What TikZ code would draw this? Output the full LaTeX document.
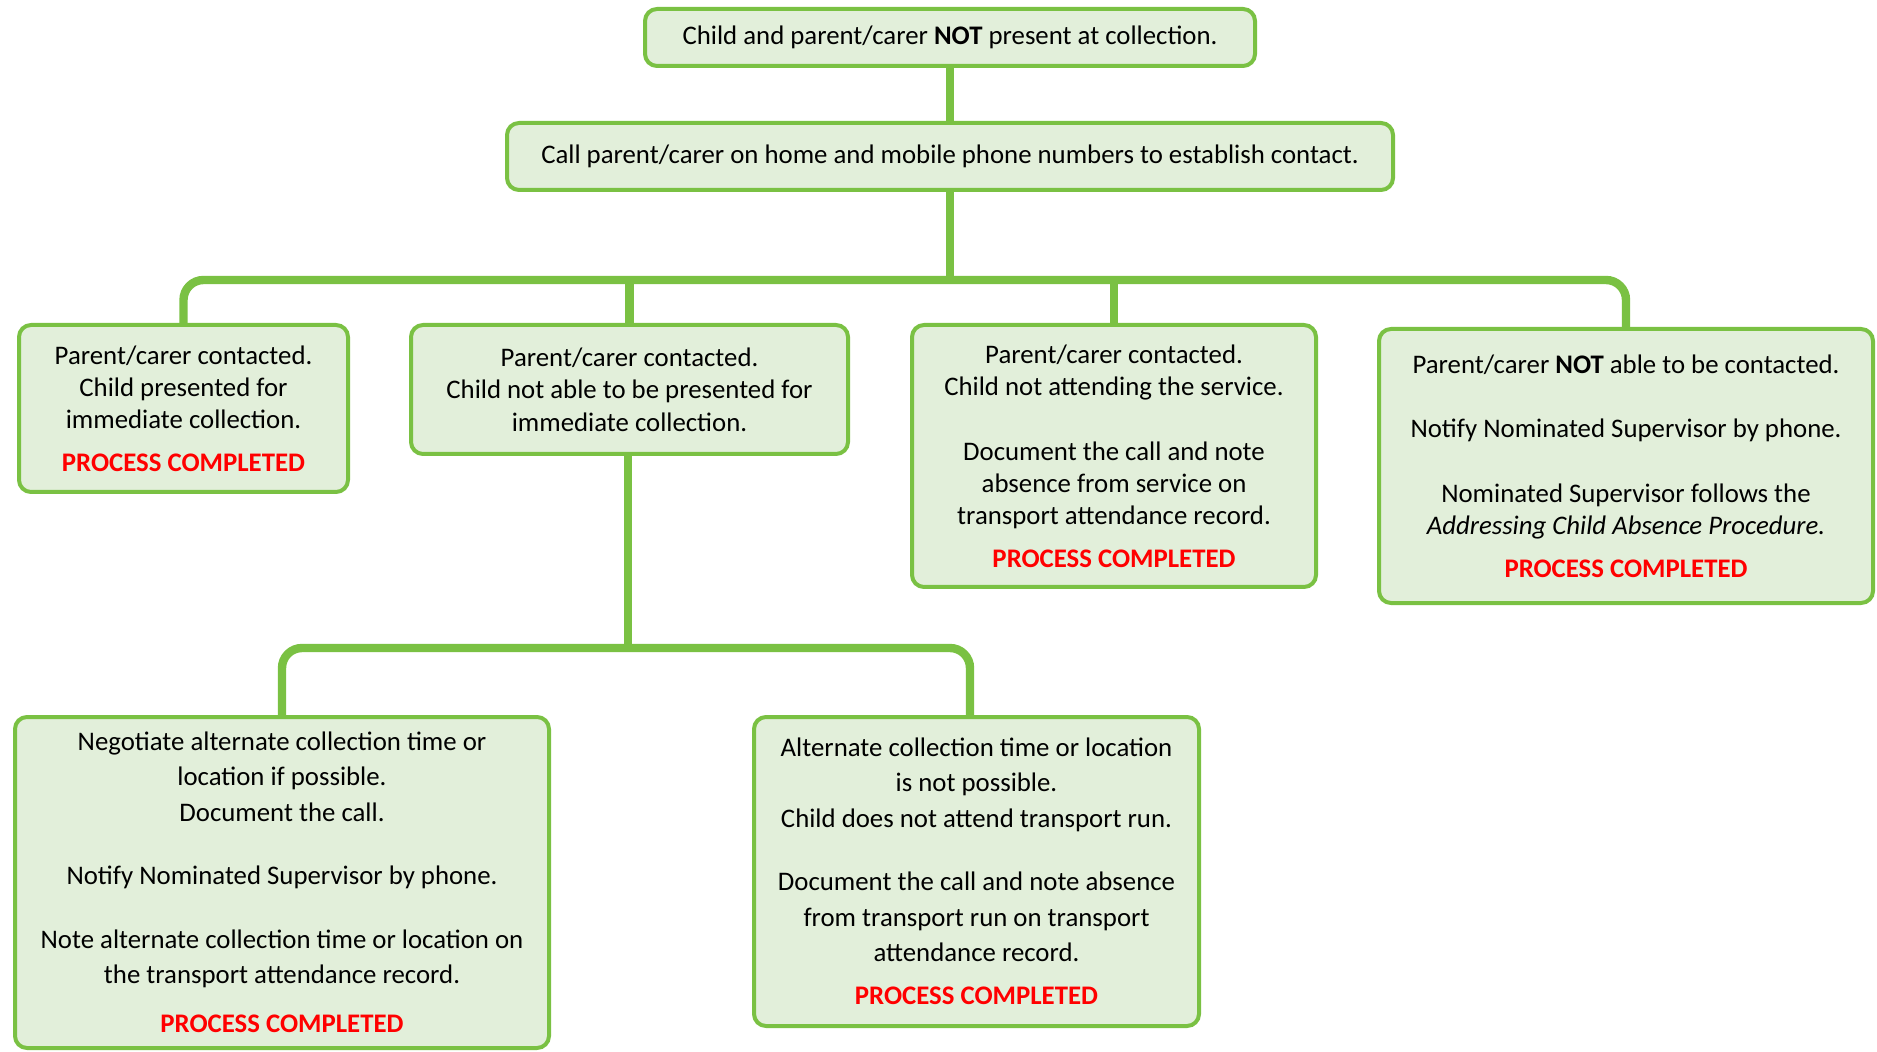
\documentclass[tikz,border=0pt]{standalone}
\usepackage{fontspec}
\setmainfont{Carlito}
\usetikzlibrary{positioning}
\definecolor{boxgreen}{RGB}{122,193,67}
\definecolor{boxfill}{RGB}{226,239,218}
\definecolor{donered}{RGB}{255,0,0}
\newcommand{\done}{\textcolor{donered}{\textbf{PROCESS COMPLETED}}}

\begin{document}
\begin{tikzpicture}[x=0.5pt,y=-0.5pt,
		stepbox/.style={draw=boxgreen,fill=boxfill,line width=2pt,rounded corners=6pt,align=center,inner sep=0pt,font=\fontsize{13.4}{16.2}\selectfont},
		lowbox/.style={stepbox,font=\fontsize{13.4}{17.7}\selectfont},
		link/.style={draw=boxgreen,line width=4.2pt,rounded corners=10pt}]
				\useasboundingbox (0,0) rectangle (1877,1052);
				\coordinate (bus) at (950,280);
				\coordinate (bus2) at (628,648);

				% connectors first, boxes on top
				\draw[link] (950,37) -- (bus);
				\draw[link] (183.5,408) |- (bus) -| (1626,466);
				\draw[link] (629.5,390) -- (629.5,280);
				\draw[link] (1114,456) -- (1114,280);
				\draw[link] (628,390) -- (bus2);
				\draw[link] (282,882) |- (bus2) -| (970,870);

				\node[stepbox,minimum width=305pt,minimum height=28.5pt](absent) at (950,37.5) {Child and parent/carer \textbf{NOT} present at collection.};
				\node[stepbox,minimum width=443pt,minimum height=33.5pt](call) at (950,156.5) {Call parent/carer on home and mobile phone numbers to establish contact.};
				\node[stepbox,minimum width=164.5pt,minimum height=83.5pt](presented) at (183.5,408.5) {Parent/carer contacted.\\ Child presented for\\ immediate collection.\\[5pt] \done};
				\node[stepbox,minimum width=218.5pt,minimum height=64.5pt](notpresented) at (629.5,389.5) {Parent/carer contacted.\\ Child not able to be presented for\\ immediate collection.};
				\node[stepbox,minimum width=202pt,minimum height=131pt](notattending) at (1114,456) {Parent/carer contacted.\\ Child not attending the service.\\[16pt] Document the call and note\\ absence from service on\\ transport attendance record.\\[5pt] \done};
				\node[stepbox,minimum width=247pt,minimum height=137pt](nocontact) at (1626,466) {Parent/carer \textbf{NOT} able to be contacted.\\[16pt] Notify Nominated Supervisor by phone.\\[16pt] Nominated Supervisor follows the\\ \textit{Addressing Child Absence Procedure.}\\[5pt] \done};
				\node[lowbox,minimum width=267pt,minimum height=165.5pt](negotiate) at (282,882.5) {Negotiate alternate collection time or\\ location if possible.\\ Document the call.\\[14pt] Notify Nominated Supervisor by phone.\\[14pt] Note alternate collection time or location on\\ the transport attendance record.\\[7pt] \done};
				\node[lowbox,minimum width=222.5pt,minimum height=154.5pt](nottransport) at (976.5,871.5) {Alternate collection time or location\\ is not possible.\\ Child does not attend transport run.\\[14pt] Document the call and note absence\\ from transport run on transport\\ attendance record.\\[4pt] \done};
			\end{tikzpicture}
\end{document}
